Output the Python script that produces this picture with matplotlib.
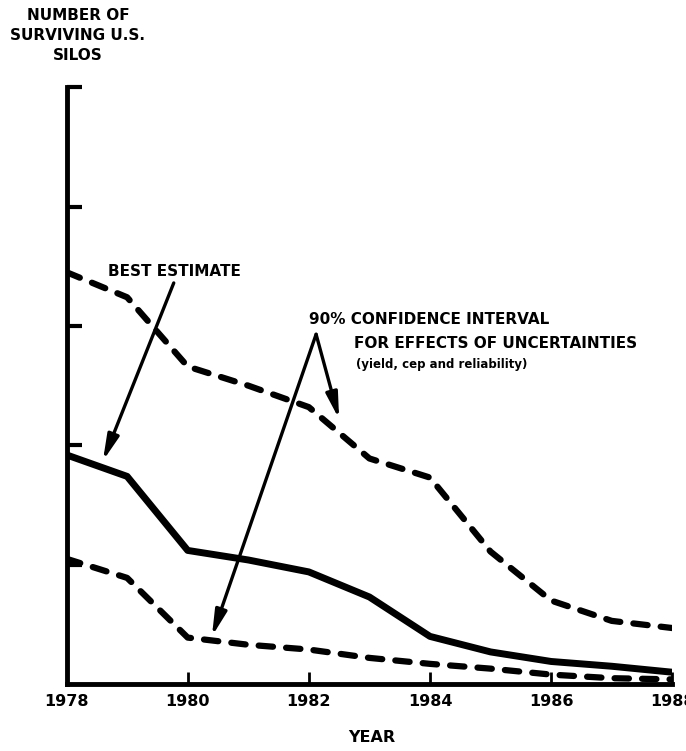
import matplotlib
matplotlib.use('Agg')
import matplotlib.pyplot as plt
from matplotlib import font_manager

#---------------------
# data (y in tick units 0..5)
#---------------------
years = [1978, 1979, 1980, 1981, 1982, 1983, 1984, 1985, 1986, 1987, 1988]
upper_90 = [3.45, 3.24, 2.66, 2.50, 2.32, 1.89, 1.73, 1.11, 0.70, 0.53, 0.47]
best_est = [1.92, 1.74, 1.12, 1.04, 0.94, 0.73, 0.40, 0.27, 0.19, 0.15, 0.10]
lower_90 = [1.05, 0.89, 0.39, 0.33, 0.29, 0.22, 0.17, 0.13, 0.08, 0.05, 0.04]

xticks = [1978, 1980, 1982, 1984, 1986, 1988]
yticks = [1, 2, 3, 4, 5]

#---------------------
# font: narrow bold if we have it
#---------------------
installed = {f.name for f in font_manager.fontManager.ttflist}
narrow = 'Liberation Sans Narrow' if 'Liberation Sans Narrow' in installed else 'DejaVu Sans'
plt.rcParams['font.family'] = [narrow, 'DejaVu Sans']
plt.rcParams['font.weight'] = 'bold'

fig = plt.figure(figsize=(6.86, 7.51), dpi=100)
ax = fig.add_axes([0.097, 0.089, 0.883, 0.795])

dash_kw = dict(color='black', lw=4.5, dashes=(2.3, 2.1), dash_capstyle='round')
ax.plot(years, upper_90, **dash_kw)
ax.plot(years, lower_90, **dash_kw)
ax.plot(years, best_est, color='black', lw=5.0, solid_joinstyle='round')

ax.set_xlim(1978, 1988)
ax.set_ylim(0, 5)
ax.spines['top'].set_visible(False)
ax.spines['right'].set_visible(False)
for s in ['left', 'bottom']:
    ax.spines[s].set_linewidth(3.5)

ax.set_xticks(xticks)
ax.set_xticklabels([str(y) for y in xticks])
ax.set_yticks(yticks)
ax.set_yticklabels([])
ax.tick_params(axis='y', direction='in', length=11, width=3)
ax.tick_params(axis='x', direction='in', length=9, width=2, labelsize=11.5, pad=7)

#---------------------
# labels / annotations
#---------------------
fig.text(78 / 686, 1 - 8 / 751, 'NUMBER OF\nSURVIVING U.S.\nSILOS',
         ha='center', va='top', fontsize=11, linespacing=1.4)
fig.text(372 / 686, 1 - 738 / 751, 'YEAR', ha='center', va='center', fontsize=11.5)

arrow = dict(arrowstyle='-|>,head_width=0.25,head_length=1.1', color='black',
             lw=2.4, mutation_scale=14, shrinkA=0, shrinkB=0)

ax.text(1978.68, 3.46, 'BEST ESTIMATE', fontsize=11, va='center')
ax.annotate('', xy=(1978.6, 1.87), xytext=(1979.77, 3.36), arrowprops=arrow)

ax.text(1982.0, 3.05, '90% CONFIDENCE INTERVAL', fontsize=11, va='center')
ax.text(1982.75, 2.85, 'FOR EFFECTS OF UNCERTAINTIES', fontsize=11, va='center')
ax.text(1982.78, 2.68, '(yield, cep and reliability)', fontsize=8.5, va='center')
ax.annotate('', xy=(1982.5, 2.22), xytext=(1982.12, 2.93), arrowprops=arrow)
ax.annotate('', xy=(1980.4, 0.40), xytext=(1982.12, 2.93), arrowprops=arrow)

fig.savefig('out.png', dpi=100)
